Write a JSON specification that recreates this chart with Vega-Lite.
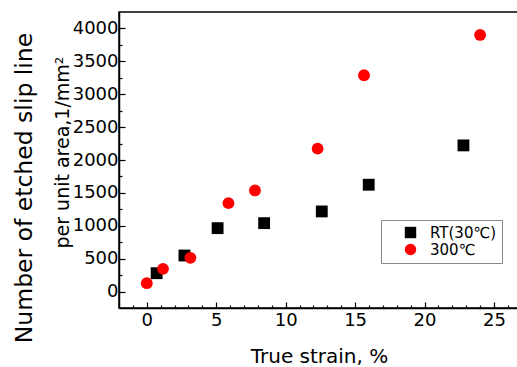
{
  "$schema": "https://vega.github.io/schema/vega-lite/v6.json",
  "width": 400,
  "height": 296,
  "autosize": {"type": "none"},
  "padding": {"left": 119, "top": 12, "right": 0, "bottom": 59},
  "background": "white",
  "title": {"text": "Number of etched slip line", "orient": "left", "anchor": "middle", "font": "DejaVu Sans", "fontSize": 23.5, "fontWeight": "normal", "color": "black", "offset": 17, "dx": -28},
  "config": {"view": {"stroke": "black", "strokeWidth": 1.5}},
  "data": {"values": [
    {"series": "RT(30℃)", "strain": 0.71, "count": 279},
    {"series": "RT(30℃)", "strain": 2.71, "count": 548},
    {"series": "RT(30℃)", "strain": 5.1, "count": 964},
    {"series": "RT(30℃)", "strain": 8.45, "count": 1040},
    {"series": "RT(30℃)", "strain": 12.6, "count": 1218},
    {"series": "RT(30℃)", "strain": 15.98, "count": 1624},
    {"series": "RT(30℃)", "strain": 22.8, "count": 2222},
    {"series": "300℃", "strain": 0, "count": 127},
    {"series": "300℃", "strain": 1.17, "count": 345},
    {"series": "300℃", "strain": 3.14, "count": 513},
    {"series": "300℃", "strain": 5.88, "count": 1344},
    {"series": "300℃", "strain": 7.79, "count": 1537},
    {"series": "300℃", "strain": 12.3, "count": 2172},
    {"series": "300℃", "strain": 15.64, "count": 3288},
    {"series": "300℃", "strain": 24.0, "count": 3901}
  ]},
  "mark": {"type": "point", "filled": true, "opacity": 1, "size": 140},
  "encoding": {
    "x": {
      "field": "strain", "type": "quantitative",
      "scale": {"domain": [-2, 26.8], "nice": false, "zero": false},
      "axis": {
        "values": [-1,0,1,2,3,4,5,6,7,8,9,10,11,12,13,14,15,16,17,18,19,20,21,22,23,24,25,26],
        "tickSize": {"condition": {"test": "datum.value % 5 === 0", "value": -6}, "value": -3},
        "labelExpr": "datum.value % 5 === 0 ? datum.label : ''",
        "labelOverlap": false, "grid": false,
        "domainColor": "black", "domainWidth": 1.5, "tickColor": "black", "tickWidth": 1.2,
        "labelFont": "DejaVu Sans", "labelFontSize": 18, "labelColor": "black", "labelPadding": 9,
        "title": "True strain, %", "titleFont": "DejaVu Sans", "titleFontSize": 20, "titleFontWeight": "normal", "titleColor": "black", "titlePadding": 14
      }
    },
    "y": {
      "field": "count", "type": "quantitative",
      "scale": {"domain": [-250, 4250], "nice": false, "zero": false},
      "axis": {
        "values": [0,250,500,750,1000,1250,1500,1750,2000,2250,2500,2750,3000,3250,3500,3750,4000],
        "tickSize": {"condition": {"test": "datum.value % 500 === 0", "value": -6}, "value": -3},
        "labelExpr": "datum.value % 500 === 0 ? datum.label : ''",
        "format": "d",
        "labelOverlap": false, "grid": false,
        "domainColor": "black", "domainWidth": 1.5, "tickColor": "black", "tickWidth": 1.2,
        "labelFont": "DejaVu Sans", "labelFontSize": 18, "labelColor": "black", "labelPadding": 7,
        "title": "per unit area,1/mm²", "titleFont": "DejaVu Sans", "titleFontSize": 19, "titleFontWeight": "normal", "titleColor": "black",
        "titleX": -51, "titleY": 140, "titleBaseline": "alphabetic", "titleAlign": "center", "titleAngle": -90
      }
    },
    "color": {
      "field": "series", "type": "nominal",
      "scale": {"domain": ["RT(30℃)", "300℃"], "range": ["#000000", "#ff0000"]},
      "legend": {
        "title": null, "orient": "none", "legendX": 262, "legendY": 208,
        "direction": "vertical",
        "strokeColor": "#888888", "fillColor": "white", "padding": 5,
        "symbolOffset": 17, "labelFont": "DejaVu Sans", "labelFontSize": 15, "labelColor": "black",
        "labelOffset": 12, "rowPadding": 1, "symbolSize": 130,
        "labelExpr": "datum.label + '\u00a0\u00a0\u00a0\u00a0\u00a0\u00a0'"
      }
    },
    "shape": {
      "field": "series", "type": "nominal",
      "scale": {"domain": ["RT(30℃)", "300℃"], "range": ["square", "circle"]}
    }
  }
}
